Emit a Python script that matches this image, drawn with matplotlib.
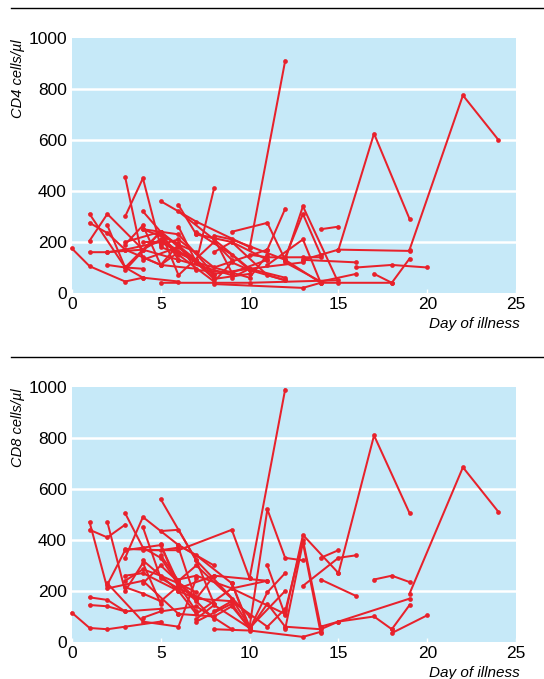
import matplotlib
matplotlib.use('Agg')
import matplotlib.pyplot as plt
from matplotlib.lines import Line2D

plt.rcParams['font.family'] = ['Liberation Sans Narrow', 'Liberation Sans', 'DejaVu Sans']
plt.rcParams['font.stretch'] = 'condensed'

# one list of days and one of counts per patient
cd4_days = [
    [0, 1, 3, 4], [1, 2, 3, 5], [1, 2, 4, 6], [1, 2, 3, 5, 7], [1, 3, 4],
    [2, 3, 5, 8], [3, 4, 6, 8], [3, 4, 5, 7], [4, 5, 6, 9], [5, 7, 10],
    [6, 7, 9, 11], [6, 8, 10], [7, 8], [8, 9, 12], [9, 11, 12, 14],
    [4, 6, 8, 10, 12], [10, 12], [11, 12], [12, 13, 14], [11, 13, 14],
    [12, 13, 15], [14, 15], [13, 15, 17, 19], [15, 19], [19, 22, 24],
    [13, 16], [17, 18, 19], [16, 18, 20], [8, 13, 14, 18], [5, 10, 15],
    [2, 4, 5, 7], [3, 5, 6, 8, 9], [4, 5, 7, 9, 11], [6, 7, 8, 10],
    [7, 9, 10, 12], [5, 6, 8, 11], [4, 5, 6, 7], [9, 10, 13],
    [2, 3, 4, 6], [3, 5, 7, 8], [4, 6, 7, 9], [5, 6, 8, 9, 10],
    [7, 8, 9, 10, 11], [8, 9, 11, 12], [3, 4, 5, 6, 7], [10, 11, 13, 14],
    [12, 14, 16],
]
cd4_vals = [
    [175, 105, 45, 60], [275, 235, 170, 200], [205, 310, 170, 130], [160, 160, 170, 110, 95], [310, 100, 95],
    [265, 100, 240, 60], [455, 130, 180, 60], [300, 450, 180, 130], [320, 240, 130, 70], [360, 280, 180],
    [345, 230, 200, 130], [320, 210, 95], [120, 410], [225, 210, 130], [240, 275, 130, 40],
    [250, 230, 75, 95, 60], [175, 910], [170, 330], [140, 310, 150], [110, 210, 40],
    [130, 340, 40], [250, 260], [130, 170, 625, 290], [170, 165], [170, 775, 600],
    [130, 120], [75, 40, 135], [100, 110, 100], [35, 20, 40, 40], [40, 40, 50],
    [160, 170, 210, 120], [90, 240, 70, 200, 130], [200, 200, 120, 80, 130], [260, 120, 55, 75],
    [240, 150, 90, 50], [190, 210, 100, 170], [140, 110, 160, 130], [60, 95, 120],
    [110, 100, 60, 45], [200, 240, 130, 70], [250, 195, 90, 80], [230, 150, 45, 120, 90],
    [230, 215, 80, 60, 150], [160, 200, 70, 50], [190, 265, 110, 190, 160], [150, 140, 140, 140],
    [120, 45, 75],
]

cd8_days = [
    [0, 1, 2, 3, 5], [1, 2, 3, 5], [1, 2, 3], [1, 2, 4, 6], [1, 2, 3],
    [2, 3, 4, 5], [3, 4, 5, 7], [3, 4, 6, 8], [4, 5, 6, 8], [4, 6, 9, 10],
    [5, 7, 8], [5, 6, 7, 10], [3, 4, 5, 6], [6, 7, 9, 10], [10, 12],
    [10, 11, 12, 13], [11, 12, 13, 15], [12, 13, 14], [12, 13, 14], [14, 15],
    [15, 17, 19], [19, 22, 24], [16, 15, 13], [14, 16], [17, 18, 19],
    [14, 15, 17, 18], [18, 20], [18, 19], [8, 10, 13, 14], [3, 4, 5, 6, 7],
    [2, 3, 5, 6, 8], [4, 5, 7, 9], [5, 6, 8, 11], [6, 7, 9, 12], [7, 8, 10, 12],
    [3, 4, 6, 7, 9], [4, 6, 7, 9, 11], [9, 10, 11, 12],
    [3, 5, 6, 7], [4, 5, 7, 8], [5, 6, 7, 9, 10], [6, 8, 9, 10],
    [7, 9, 10, 11, 12], [2, 4, 6, 7], [8, 9, 11, 12], [12, 14, 15, 19],
]
cd8_vals = [
    [115, 55, 50, 60, 80], [175, 165, 120, 130], [145, 140, 120], [470, 210, 240, 110], [440, 410, 460],
    [470, 200, 310, 150], [505, 370, 330, 120], [330, 490, 380, 300], [450, 250, 210, 150], [360, 360, 440, 250],
    [560, 320, 150], [435, 440, 320, 100], [215, 190, 160, 220], [380, 340, 230, 60], [250, 990],
    [60, 520, 330, 320], [300, 105, 420, 270], [120, 400, 60], [50, 390, 35], [330, 360],
    [270, 810, 505], [190, 685, 510], [340, 330, 220], [245, 180], [245, 260, 235],
    [60, 80, 100, 50], [35, 105], [50, 145], [50, 45, 20, 40], [240, 285, 260, 230, 195],
    [225, 360, 380, 230, 90], [95, 120, 140, 50], [385, 210, 260, 240], [245, 260, 210, 110], [90, 145, 55, 200],
    [260, 270, 200, 170, 160], [320, 200, 110, 210, 240], [230, 50, 195, 270],
    [365, 360, 370, 160], [230, 300, 170, 260], [340, 240, 300, 170, 60], [110, 100, 140, 55],
    [80, 150, 50, 150, 60], [230, 80, 60, 250], [120, 160, 60, 130], [60, 50, 80, 170],
]

day_ticks = [0, 5, 10, 15, 20, 25]
count_ticks = [0, 200, 400, 600, 800, 1000]

red = '#e8212b'
bg = '#c6e9f8'

fig = plt.figure(figsize=(5.44, 6.79), dpi=100)


def panel(rect, days, vals, ylabel, rule_y):
    ax = fig.add_axes(rect)
    ax.set_facecolor(bg)
    for d, v in zip(days, vals):
        ax.plot(d, v, color=red, lw=1.45, marker='o', ms=3.4, mew=0, clip_on=False, zorder=3)
    ax.set_xlim(0, 25)
    ax.set_ylim(0, 1000)
    ax.set_xticks(day_ticks)
    ax.set_yticks(count_ticks)
    for y in count_ticks[1:-1]:
        ax.axhline(y, color='white', lw=1.8, zorder=1)
    for s in ax.spines.values():
        s.set_visible(False)
    ax.tick_params(axis='x', direction='in', length=3, width=1, color='white', pad=3, labelsize=12.5)
    ax.tick_params(axis='y', length=0, pad=3.5, labelsize=12.5)
    fig.text(0.033, rect[1] + rect[3] - 0.002, ylabel, rotation=90, ha='center', va='top',
             fontsize=10.5, style='italic')
    fig.text(0.955, rect[1] - 0.045, 'Day of illness', ha='right', va='center',
             fontsize=11, style='italic')
    fig.add_artist(Line2D([0.02, 1.0], [rule_y, rule_y], color='black', lw=1.0))
    return ax


panel([0.132, 0.5685, 0.817, 0.3756], cd4_days, cd4_vals, 'CD4 cells/µl', 1 - 8 / 679)
panel([0.132, 0.0545, 0.817, 0.3756], cd8_days, cd8_vals, 'CD8 cells/µl', 1 - 357 / 679)

fig.savefig('out.png', dpi=100)
